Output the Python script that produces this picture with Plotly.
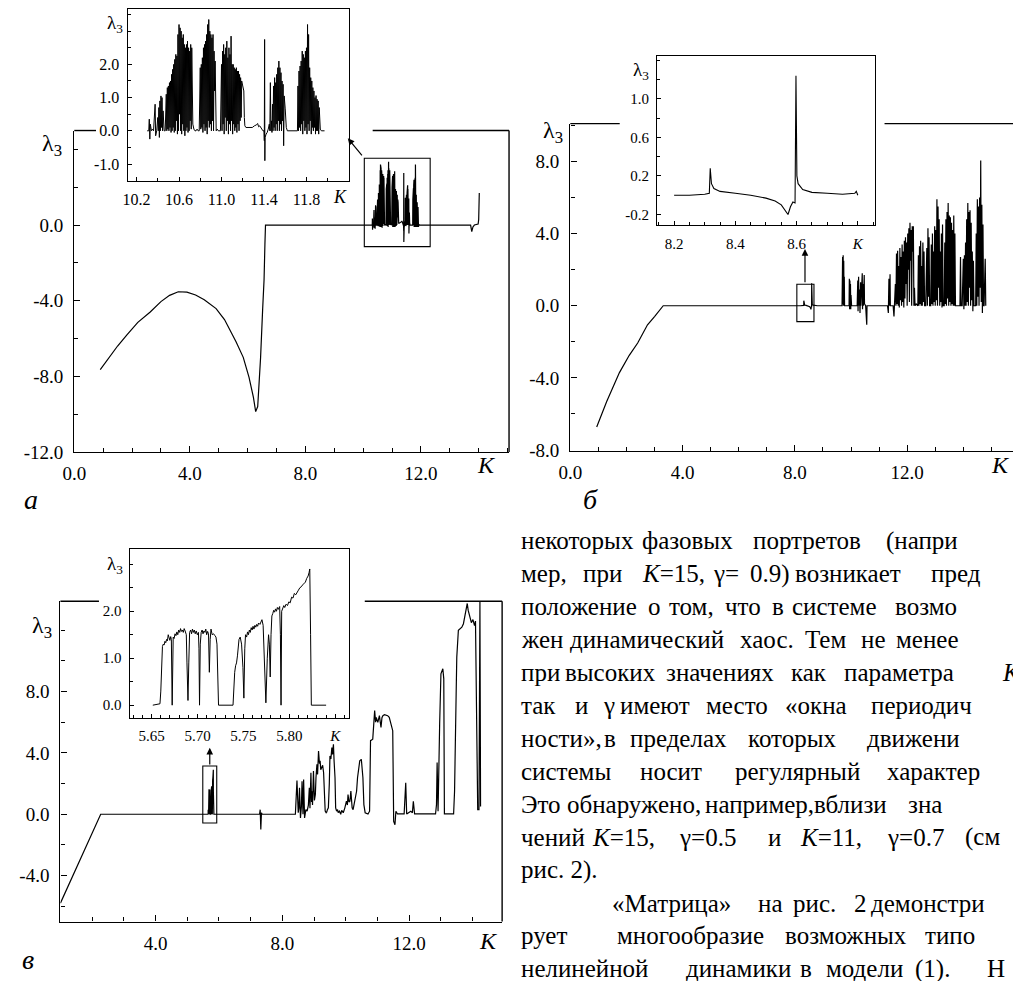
import plotly.graph_objects as go

W, H = 1013, 981
FONT = "Liberation Serif, Times New Roman, serif"

# ---------------- data: panel а (gamma fixed), λ3 versus K ----------------
A_MAIN = [(0.9, -7.65), (1.2, -7.0), (1.5, -6.4), (1.83, -5.8), (2.2, -5.15), (2.63, -4.6),
          (3.0, -4.05), (3.3, -3.72), (3.6, -3.53), (3.9, -3.55), (4.2, -3.7), (4.5, -3.95),
          (4.91, -4.42), (5.2, -5.0), (5.6, -6.17), (5.85, -7.0), (6.05, -8.06), (6.2, -9.1),
          (6.28, -9.87), (6.35, -9.6), (6.45, -7.0), (6.52, -4.5), (6.57, -2.9), (6.6, -1.0),
          (6.62, 0.0)]
A_TAIL = [(13.72, 0.0), (13.76, -0.35), (13.80, -0.1), (13.85, 0.0), (13.98, 0.05),
          (14.00, 0.3), (14.02, 1.7)]

# zoomed window 10.3 < K < 12 of panel а
INSET_A = [
    (10.30, 0.0), (10.315, 0.0), (10.32, 0.35), (10.325, -0.25), (10.33, 0.2), (10.34, 0.0),
    (10.35, 0.05), (10.36, 0.0), (10.375, 0.8), (10.38, -0.15), (10.39, 0.0), (10.40, 0.4),
    (10.405, 0.0), (10.41, 0.7), (10.415, -0.2), (10.42, 0.9), (10.425, 0.0), (10.43, 1.05),
    (10.435, 0.1), (10.44, 1.0), (10.445, 0.0), (10.45, 0.6), (10.46, 0.0), (10.47, 0.0),
    (10.48, 1.1), (10.485, 0.0), (10.49, 1.3), (10.495, 0.05), (10.50, 1.35), (10.505, 0.0),
    (10.51, 1.45), (10.515, 0.1), (10.52, 1.5), (10.525, -0.05), (10.53, 1.7), (10.535, 0.0),
    (10.54, 1.85), (10.545, 0.1), (10.55, 2.0), (10.555, -0.05), (10.56, 2.15), (10.565, 0.0),
    (10.57, 2.3), (10.575, 0.3), (10.58, 2.25), (10.585, -0.1), (10.59, 2.9), (10.595, 0.0),
    (10.60, 3.2), (10.605, 0.5), (10.61, 3.1), (10.615, 0.0), (10.62, 3.0), (10.625, -0.1),
    (10.63, 2.8), (10.635, 0.2), (10.64, 2.9), (10.645, 0.0), (10.65, 2.6), (10.655, -0.15),
    (10.66, 2.5), (10.665, 0.0), (10.67, 2.6), (10.675, 0.1), (10.68, 2.7), (10.685, -0.05),
    (10.69, 2.5), (10.695, 0.0), (10.70, 2.4), (10.705, 0.3), (10.71, 2.6), (10.715, 0.05),
    (10.72, 2.5), (10.73, 0.2), (10.74, 0.05), (10.75, 0.0), (10.76, 0.0), (10.77, 0.05),
    (10.78, 0.0), (10.79, 0.0), (10.80, 1.9), (10.805, 0.05), (10.81, 2.0), (10.815, 0.1),
    (10.82, 2.2), (10.825, -0.05), (10.83, 2.5), (10.835, 0.2), (10.84, 2.6), (10.845, 0.0),
    (10.85, 2.7), (10.855, 0.1), (10.86, 2.9), (10.865, -0.1), (10.87, 3.2), (10.875, 0.3),
    (10.88, 3.35), (10.885, 0.1), (10.89, 3.0), (10.895, 0.2), (10.90, 2.9), (10.905, 0.0),
    (10.91, 2.8), (10.915, 0.3), (10.92, 2.9), (10.925, 0.0), (10.93, 2.4), (10.935, 1.2),
    (10.94, 2.1), (10.945, 0.0), (10.95, 0.0), (10.96, 0.05), (10.97, 0.0), (10.99, 0.0),
    (11.00, 2.0), (11.005, 0.0), (11.01, 2.4), (11.015, 0.2), (11.02, 2.6), (11.025, -0.1),
    (11.03, 2.3), (11.035, 0.4), (11.04, 2.5), (11.045, 0.0), (11.05, 2.7), (11.055, 0.3),
    (11.06, 2.2), (11.065, -0.1), (11.07, 2.5), (11.075, 0.2), (11.08, 2.3), (11.085, 0.0),
    (11.09, 2.85), (11.095, 0.3), (11.10, 2.0), (11.105, -0.1), (11.11, 2.0), (11.115, 0.2),
    (11.12, 1.9), (11.125, 0.0), (11.13, 1.85), (11.135, 0.1), (11.14, 1.9), (11.145, -0.05),
    (11.15, 1.8), (11.155, 0.2), (11.16, 1.8), (11.165, 0.0), (11.17, 1.7), (11.175, 0.3),
    (11.18, 1.6), (11.185, 0.4), (11.19, 1.5), (11.20, 1.35), (11.21, 1.2), (11.215, 0.4),
    (11.22, 0.15), (11.23, 0.1), (11.25, 0.1), (11.27, 0.12), (11.29, 0.1), (11.31, 0.15),
    (11.33, 0.18), (11.34, 0.22), (11.35, 0.12), (11.36, 0.15), (11.37, 0.1), (11.38, 0.05),
    (11.39, 0.0), (11.40, 0.0), (11.403, -0.3), (11.406, 2.75), (11.408, -0.9), (11.41, -0.2),
    (11.42, -0.1), (11.43, -0.05), (11.44, 0.05), (11.45, 0.2), (11.455, 0.0), (11.46, 1.45),
    (11.465, 0.0), (11.47, 0.3), (11.475, -0.05), (11.48, 0.8), (11.485, 0.0), (11.49, 1.35),
    (11.495, 0.1), (11.50, 1.6), (11.505, 0.0), (11.51, 1.45), (11.515, 0.2), (11.52, 1.7),
    (11.525, 0.0), (11.53, 1.9), (11.535, 0.3), (11.54, 2.1), (11.545, 0.0), (11.55, 1.9),
    (11.555, 0.2), (11.56, 1.75), (11.565, 0.0), (11.57, 1.5), (11.575, 0.3), (11.58, 1.4),
    (11.585, -0.45), (11.59, 1.05), (11.60, 0.66), (11.61, 0.1), (11.62, 0.0), (11.66, 0.0),
    (11.70, 0.0), (11.715, 0.0), (11.72, 1.35), (11.725, 0.0), (11.73, 1.8), (11.735, 0.1),
    (11.74, 1.95), (11.745, 0.0), (11.75, 2.1), (11.755, 0.2), (11.76, 2.4), (11.765, -0.1),
    (11.77, 2.3), (11.775, 0.3), (11.78, 2.2), (11.785, 0.0), (11.79, 2.4), (11.795, 0.1),
    (11.80, 2.5), (11.805, -0.1), (11.81, 3.2), (11.815, 0.2), (11.82, 2.9), (11.825, 0.0),
    (11.83, 1.9), (11.835, 0.3), (11.84, 1.6), (11.845, -0.1), (11.85, 1.5), (11.855, 0.1),
    (11.86, 1.3), (11.865, 0.0), (11.87, 1.2), (11.875, 0.1), (11.88, 1.0), (11.885, -0.1),
    (11.89, 1.06), (11.895, 0.0), (11.90, 0.95), (11.905, 0.0), (11.91, 0.9), (11.915, -0.1),
    (11.92, 0.7), (11.93, 0.05), (11.94, 0.0), (11.97, 0.0)]

# ---------------- data: panel б ----------------
B_MAIN = [(0.94, -6.72), (1.3, -5.3), (1.75, -3.71), (2.1, -2.75), (2.4, -2.07), (2.75, -1.06),
          (3.0, -0.6), (3.31, 0.0)]

# zoomed window 8.2 < K < 8.8 of panel б
INSET_B = [(8.20, 0.0), (8.25, 0.0), (8.30, 0.01), (8.315, 0.02), (8.318, 0.28), (8.322, 0.12),
           (8.33, 0.07), (8.35, 0.04), (8.40, 0.02), (8.45, 0.0), (8.50, -0.03), (8.53, -0.06),
           (8.55, -0.1), (8.565, -0.17), (8.572, -0.2), (8.58, -0.12), (8.588, -0.07),
           (8.595, -0.08), (8.598, 1.24), (8.601, 0.2), (8.605, 0.12), (8.62, 0.06),
           (8.65, 0.03), (8.70, 0.02), (8.75, 0.01), (8.79, 0.02), (8.795, 0.04), (8.80, 0.0)]

B_CHAOS = [
    (9.68, 0.0), (9.70, 2.7), (9.71, 0.1), (9.72, 2.8), (9.73, 0.0), (9.74, 2.5), (9.75, 0.3),
    (9.76, 1.6), (9.77, 0.0), (9.93, 0.0), (9.94, 1.5), (9.95, -0.2), (9.96, 1.4), (9.97, 0.1),
    (9.98, 1.2), (9.99, -0.2), (10.00, 0.6), (10.02, 0.0), (10.22, 0.0), (10.24, 1.4),
    (10.25, -0.3), (10.27, 1.6), (10.28, 0.0), (10.30, 0.9), (10.32, -0.4), (10.34, 1.3),
    (10.35, 0.0), (10.40, 1.8), (10.41, -0.2), (10.43, 1.2), (10.44, 0.0), (10.47, 1.7),
    (10.48, 0.1), (10.52, 0.0), (10.56, -1.05), (10.57, 0.0), (11.30, 0.0), (11.33, -0.4),
    (11.35, 1.5), (11.37, 0.0), (11.39, 1.75), (11.40, 0.0), (11.50, 0.0), (11.53, -0.6),
    (11.55, 0.0), (11.58, 1.2), (11.60, 0.0), (11.62, 2.9), (11.64, 0.1), (11.66, 3.05),
    (11.68, 0.0), (11.70, 2.2), (11.72, -0.1), (11.74, 3.2), (11.76, 0.3), (11.78, 2.7),
    (11.80, 0.0), (11.82, 3.4), (11.84, 0.2), (11.86, 3.0), (11.88, -0.1), (11.90, 3.6),
    (11.92, 0.4), (11.94, 3.8), (11.96, 1.2), (11.98, 3.5), (12.00, 0.0), (12.02, 4.0),
    (12.04, 2.0), (12.06, 4.3), (12.08, 0.2), (12.10, 4.6), (12.12, 2.5), (12.14, 4.2),
    (12.16, 0.0), (12.18, 4.4), (12.20, 3.0), (12.22, 4.4), (12.24, 0.0), (12.26, 1.0),
    (12.28, 0.0), (12.32, 0.1), (12.38, 0.0), (12.40, 2.8), (12.42, 0.0), (12.44, 3.3),
    (12.46, 0.1), (12.48, 3.6), (12.50, 0.0), (12.52, 2.2), (12.54, 0.0), (12.56, 3.5),
    (12.58, 0.2), (12.60, 3.0), (12.62, 0.0), (12.66, 0.0), (12.70, 3.2), (12.72, 0.0),
    (12.74, 4.3), (12.76, 0.5), (12.78, 3.8), (12.80, 0.0), (12.84, 0.0), (12.86, 3.4),
    (12.88, 0.1), (12.90, 4.0), (12.92, 0.0), (12.94, 3.0), (12.96, 0.2), (12.98, 4.4),
    (13.00, 0.0), (13.02, 4.2), (13.04, 0.3), (13.06, 5.9), (13.08, 0.0), (13.10, 5.5),
    (13.12, 1.0), (13.14, 4.8), (13.16, 0.0), (13.18, 3.0), (13.20, 0.2), (13.22, 4.0),
    (13.24, -0.1), (13.26, 4.5), (13.28, 0.0), (13.32, 0.0), (13.34, 3.5), (13.36, 0.1),
    (13.38, 4.8), (13.40, 0.0), (13.42, 5.2), (13.44, 0.4), (13.46, 5.7), (13.48, 0.0),
    (13.50, 5.0), (13.52, 0.2), (13.54, 4.9), (13.56, 0.0), (13.58, 4.6), (13.60, 0.1),
    (13.62, 4.2), (13.64, 0.0), (13.66, 5.0), (13.68, 0.0), (13.70, 4.0), (13.72, 0.0),
    (13.88, 0.0), (13.90, 2.7), (13.92, 0.0), (13.96, 0.0), (14.00, 2.6), (14.02, -0.2),
    (14.04, 2.8), (14.06, 0.0), (14.08, 3.5), (14.10, 0.0), (14.12, 4.8), (14.14, 0.2),
    (14.16, 5.7), (14.18, 0.0), (14.20, 5.2), (14.22, 1.0), (14.24, 5.3), (14.26, 0.0),
    (14.28, 4.6), (14.30, 0.3), (14.32, 3.0), (14.34, -0.3), (14.36, 2.5), (14.38, 0.0),
    (14.44, 0.0), (14.46, 4.0), (14.48, 0.0), (14.50, 5.9), (14.52, 0.5), (14.54, 5.5),
    (14.56, 0.0), (14.58, 6.0), (14.60, 1.0), (14.62, 8.05), (14.64, 0.2), (14.66, 5.6),
    (14.68, -0.4), (14.70, 4.5), (14.72, 0.0), (14.74, 0.0), (14.78, 2.6), (14.80, 0.0)]

# ---------------- data: panel в ----------------
C_START = [(1.0, -5.8), (2.27, 0.0)]

# zoomed window 5.65 < K < 5.84 of panel в
INSET_C = [
    (5.6513, 0.0), (5.6591, 0.03), (5.6600, 0.3), (5.6609, 0.9), (5.6618, 1.25), (5.6627, 1.3),
    (5.6636, 1.28), (5.6645, 1.36), (5.6654, 1.33), (5.6663, 1.4), (5.6672, 1.37), (5.6681, 1.5),
    (5.6690, 1.42), (5.6699, 1.38), (5.6708, 1.46), (5.6715, 1.4), (5.6724, 0.0), (5.6730, 1.2),
    (5.6735, 1.45), (5.6745, 1.42), (5.6755, 1.52), (5.6765, 1.48), (5.6775, 1.56), (5.6785, 1.5),
    (5.6795, 1.6), (5.6806, 1.55), (5.6815, 1.63), (5.6825, 1.57), (5.6835, 1.6), (5.6845, 1.55),
    (5.6855, 1.63), (5.6865, 1.58), (5.6878, 1.5), (5.6885, 0.9), (5.6896, 0.1), (5.6905, 0.9),
    (5.6914, 1.55), (5.6925, 1.6), (5.6935, 1.52), (5.6945, 1.62), (5.6955, 1.55), (5.6965, 1.6),
    (5.6975, 1.52), (5.6986, 1.58), (5.6998, 1.5), (5.7010, 1.55), (5.7016, 1.2), (5.7022, 0.0),
    (5.7030, 1.3), (5.7040, 1.55), (5.7050, 1.6), (5.7060, 1.52), (5.7070, 1.58), (5.7080, 1.55),
    (5.7090, 1.62), (5.7100, 1.5), (5.7110, 1.57), (5.7120, 1.52), (5.7129, 0.7), (5.7138, 1.4),
    (5.7147, 1.62), (5.7160, 1.5), (5.7175, 1.52), (5.7190, 1.48), (5.7201, 1.45), (5.7212, 1.3),
    (5.7222, 0.5), (5.7229, 0.0), (5.7387, 0.0), (5.7395, 0.5), (5.7405, 0.7), (5.7415, 0.84),
    (5.7425, 0.9), (5.7435, 1.05), (5.7445, 1.3), (5.7452, 1.4), (5.7465, 1.45), (5.7480, 1.3),
    (5.7495, 0.8), (5.7505, 0.15), (5.7515, 1.2), (5.7523, 1.5), (5.7535, 1.45), (5.7545, 1.56),
    (5.7555, 1.5), (5.7565, 1.6), (5.7575, 1.55), (5.7585, 1.65), (5.7595, 1.6), (5.7605, 1.68),
    (5.7615, 1.62), (5.7625, 1.7), (5.7635, 1.66), (5.7645, 1.72), (5.7655, 1.68), (5.7665, 1.75),
    (5.7680, 1.72), (5.7692, 1.8), (5.7702, 1.82), (5.7715, 1.7), (5.7730, 0.9), (5.7745, 0.05),
    (5.7760, 1.0), (5.7774, 1.5), (5.7783, 1.3), (5.7792, 0.6), (5.7801, 1.5), (5.7810, 1.9),
    (5.7820, 1.95), (5.7830, 2.02), (5.7840, 1.98), (5.7850, 2.05), (5.7860, 2.0), (5.7870, 2.08),
    (5.7880, 2.04), (5.7895, 2.1), (5.7903, 1.5), (5.7910, 0.0), (5.7917, 2.0), (5.7930, 2.05),
    (5.7940, 2.12), (5.7950, 2.08), (5.7965, 2.15), (5.7980, 2.12), (5.7995, 2.2), (5.8010, 2.18),
    (5.8025, 2.3), (5.8040, 2.28), (5.8055, 2.38), (5.8070, 2.35), (5.8085, 2.42), (5.8100, 2.45),
    (5.8115, 2.5), (5.8130, 2.52), (5.8145, 2.56), (5.8160, 2.6), (5.8175, 2.62), (5.8190, 2.7),
    (5.8205, 2.75), (5.8215, 2.82), (5.8223, 2.9), (5.8232, 1.5), (5.8240, 0.0), (5.8401, 0.0)]

C_MID = [(7.28, 0.0), (7.30, 0.3), (7.32, -1.0), (7.34, 0.1), (7.36, 0.0), (8.38, 0.0)]

C_CHAOS = [
    (8.41, 0.0), (8.46, 2.2), (8.50, 0.1), (8.52, 0.4), (8.54, 1.73), (8.57, -0.24), (8.60, 0.5),
    (8.62, 2.16), (8.65, 0.0), (8.67, 2.27), (8.70, -0.24), (8.74, 0.3), (8.78, 0.2), (8.82, 0.6),
    (8.85, 1.73), (8.87, 0.4), (8.90, 2.7), (8.92, 0.8), (8.93, 1.5), (8.95, 0.6), (8.98, 2.82),
    (9.01, 0.9), (9.04, 1.29), (9.06, 2.4), (9.09, 3.26), (9.11, 2.6), (9.14, 4.13), (9.17, 3.3),
    (9.19, 3.48), (9.21, 2.9), (9.24, 3.04), (9.27, 3.2), (9.30, 2.71), (9.33, 1.0), (9.35, 0.2),
    (9.38, 0.1), (9.40, 0.15), (9.42, 0.3), (9.45, 0.42), (9.48, 2.0), (9.50, 3.8), (9.53, 3.6),
    (9.56, 4.35), (9.58, 3.9), (9.61, 4.57), (9.63, 3.5), (9.66, 2.38), (9.68, 0.42), (9.71, 0.2),
    (9.74, 0.3), (9.76, 0.1), (9.80, 0.2), (9.84, 0.0), (9.87, 0.25), (9.92, 0.1), (9.97, 0.42),
    (10.02, 0.85), (10.05, 0.6), (10.07, 1.29), (10.10, 0.8), (10.13, 0.85), (10.16, 1.51),
    (10.20, 0.42), (10.23, 0.3), (10.26, 0.63), (10.30, 1.18), (10.34, 1.5), (10.37, 2.38),
    (10.40, 2.9), (10.44, 3.48), (10.49, 3.58), (10.52, 3.0), (10.54, 2.38), (10.57, 0.63),
    (10.61, 0.1), (10.70, 0.02), (10.75, 0.2), (10.78, 4.8), (10.85, 4.9), (10.91, 6.76),
    (10.94, 6.0), (10.96, 6.32), (11.01, 5.99), (11.06, 6.43), (11.11, 5.66), (11.14, 6.3),
    (11.17, 6.43), (11.22, 6.49), (11.32, 6.43), (11.37, 6.32), (11.42, 5.99), (11.48, 5.45),
    (11.51, -0.46), (11.55, -0.68), (11.58, 0.2), (11.63, 0.02), (11.84, 0.02), (11.89, 2.05),
    (11.92, 0.02), (12.05, 0.2), (12.10, 0.1), (12.13, 0.85), (12.17, 0.02), (12.83, 0.02),
    (12.86, 0.63), (12.88, 3.37), (12.91, 0.2), (12.93, 4.13), (12.96, 5.9), (13.00, 9.16),
    (13.06, 9.49), (13.09, 8.83), (13.11, 0.02), (13.40, 0.02), (13.43, 1.5), (13.48, 7.85),
    (13.50, 10.25), (13.55, 12.0), (13.61, 12.1), (13.66, 12.2), (13.71, 12.43), (13.76, 13.1),
    (13.83, 13.75), (13.86, 13.3), (13.91, 12.9), (13.96, 12.5), (14.01, 12.7), (14.06, 12.3),
    (14.09, 12.6), (14.10, 10.9), (14.13, 7.0), (14.16, 0.3), (14.20, 0.3), (14.23, 13.85),
    (14.25, 0.5)]

# ---------------- body text of the page (word, left edge px), one row per line ----------------
TEXT_LINES = [
    [(513, "некоторых"), (636, "фазовых"), (748, "портретов"), (882, "(напри")],
    [(513, "мер,"), (576, "при"), (636, "<i>K</i>=15,"), (707, "γ="), (745, "0.9)"),
     (790, "возникает"), (928, "пред")],
    [(513, "положение"), (642, "о"), (663, "том,"), (720, "что"), (767, "в"),
     (787, "системе"), (892, "возмо")],
    [(513, "жен"), (563, "динамический"), (735, "хаос."), (800, "Тем"), (857, "не"),
     (893, "менее")],
    [(513, "при"), (558, "высоких"), (660, "значениях"), (786, "как"), (840, "параметра"),
     (1000, "<i>K</i>")],
    [(513, "так"), (568, "и"), (596, "γ"), (613, "имеют"), (700, "место"), (780, "«окна"),
     (867, "периодич")],
    [(513, "ности»,"), (597, "в"), (623, "пределах"), (743, "которых"), (863, "движени")],
    [(513, "системы"), (633, "носит"), (730, "регулярный"), (883, "характер")],
    [(513, "Это"), (560, "обнаружено,"), (699, "например,"), (810, "вблизи"), (905, "зна")],
    [(513, "чений"), (585, "<i>K</i>=15,"), (673, "γ=0.5"), (763, "и"), (795, "<i>K</i>=11,"),
     (883, "γ=0.7"), (962, "(см")],
    [(513, "рис. 2).")],
    [(605, "«Матрица»"), (753, "на"), (788, "рис."), (850, "2"), (867, "демонстри")],
    [(513, "рует"), (610, "многообразие"), (780, "возможных"), (922, "типо")],
    [(513, "нелинейной"), (680, "динамики"), (795, "в"), (822, "модели"), (912, "(1)."),
     (985, "Н")],
]
TEXT_TOP, TEXT_STEP, TEXT_SIZE = 547, 33.3, 25


def fx(px):
    return px / W


def fy(py):
    return 1 - py / H


def split(pairs):
    return [p[0] for p in pairs], [p[1] for p in pairs]


fig = go.Figure()


def add_line(pairs, xa, ya, width=1.2):
    k, l = split(pairs)
    fig.add_trace(go.Scatter(x=k, y=l, mode="lines", xaxis=xa, yaxis=ya,
                             line=dict(color="black", width=width), hoverinfo="skip",
                             showlegend=False))


add_line(A_MAIN + INSET_A + A_TAIL, "x", "y")
add_line(INSET_A, "x2", "y2", 1.0)
add_line(B_MAIN + INSET_B + B_CHAOS, "x3", "y3")
add_line(INSET_B, "x4", "y4", 1.1)
add_line(C_START + INSET_C + C_MID + C_CHAOS, "x5", "y5")
add_line(INSET_C, "x6", "y6", 1.0)


def axis(domain, rng, tickvals, ticktext, minor_dtick, minor_t0, size, mirror=False,
         standoff=4, ticklen=6):
    return dict(domain=domain, range=rng, tickmode="array", tickvals=tickvals,
                ticktext=ticktext, ticks="inside", ticklen=ticklen, tickwidth=1.2,
                tickcolor="black", showline=True, linecolor="black", linewidth=1.4,
                mirror=mirror, showgrid=False, zeroline=False,
                ticklabelstandoff=standoff,
                tickfont=dict(family=FONT, size=size, color="black"),
                minor=dict(ticks="inside", dtick=minor_dtick, tick0=minor_t0,
                           ticklen=max(3, ticklen - 2), tickwidth=1.0, tickcolor="black",
                           showgrid=False))


def fmt(vals):
    return [f"{v:.1f}" for v in vals]


layout = dict(
    width=W, height=H, margin=dict(l=0, r=0, t=0, b=0),
    paper_bgcolor="white", plot_bgcolor="white", showlegend=False,
    font=dict(family=FONT, color="black"),
    # panel а
    xaxis=axis([fx(63), fx(503)], [0, 15.05], [0, 4, 8, 12], fmt([0, 4, 8, 12]), 1, 0, 19),
    yaxis=axis([fy(457), fy(132)], [-12, 5.0], [-12, -8, -4, 0], fmt([-12, -8, -4, 0]), 2, 0, 19,
               standoff=6),
    xaxis2=axis([fx(117), fx(341)], [10.116, 12.2], [10.2, 10.6, 11.0, 11.4, 11.8],
                fmt([10.2, 10.6, 11.0, 11.4, 11.8]), 0.2, 10.2, 16, True, ticklen=4),
    yaxis2=axis([fy(183), fy(9)], [-1.51, 3.67], [-1, 0, 1, 2], fmt([-1, 0, 1, 2]), 0.5, 0, 16,
                True, ticklen=4),
    # panel б
    xaxis3=axis([fx(565), 1.0], [0, 15.77], [0, 4, 8, 12], fmt([0, 4, 8, 12]), 1, 0, 19),
    yaxis3=axis([fy(456), fy(125)], [-8.05, 10.1], [-8, -4, 0, 4, 8], fmt([-8, -4, 0, 4, 8]), 2,
                0, 19, standoff=6),
    xaxis4=axis([fx(653), fx(873)], [8.145, 8.855], [8.2, 8.4, 8.6, 8.8],
                ["8.2", "8.4", "8.6", "<i>K</i>"], 0.05, 8.2, 15, True, ticklen=4),
    yaxis4=axis([fy(228), fy(57)], [-0.313, 1.44], [-0.2, 0.2, 0.6, 1.0],
                ["-0.2", "0.2", "0.6", "1.0"], 0.2, 0.0, 15, True, ticklen=4),
    # panel в
    xaxis5=axis([fx(49), fx(496)], [1.0, 14.93], [4, 8, 12], fmt([4, 8, 12]), 1, 0, 19),
    yaxis5=axis([fy(932), fy(608)], [-7.0, 13.9], [-4, 0, 4, 8], fmt([-4, 0, 4, 8]), 2, 0, 19,
                standoff=6),
    xaxis6=axis([fx(119), fx(341)], [5.626, 5.865], [5.65, 5.70, 5.75, 5.80, 5.85],
                ["5.65", "5.70", "5.75", "5.80", "<i>K</i>"], 0.01, 5.65, 15, True, ticklen=4),
    yaxis6=axis([fy(726), fy(555)], [-0.27, 3.33], [0, 1, 2], fmt([0, 1, 2]), 0.5, 0, 15, True,
                ticklen=4),
)
for i in range(1, 7):
    s = "" if i == 1 else str(i)
    layout[f"xaxis{s}"]["anchor"] = f"y{s}"
    layout[f"yaxis{s}"]["anchor"] = f"x{s}"
fig.update_layout(**layout)

shapes = []


def seg(x0, y0, x1, y1):
    shapes.append(dict(type="line", xref="paper", yref="paper", x0=fx(x0), y0=fy(y0),
                       x1=fx(x1), y1=fy(y1), line=dict(color="black", width=1.4),
                       layer="above"))


# top and right edges of the main frames, broken where the insets sit
seg(63, 132, 85, 132); seg(365, 132, 503, 132); seg(503, 132, 503, 457)
seg(565, 125, 615, 125); seg(883, 125, W, 125)
seg(49, 608, 88, 608); seg(357, 608, 496, 608); seg(496, 608, 496, 932)

# rectangles marking the zoomed windows
for xa, ya, k0, k1, l0, l1 in [("x", "y", 10.04, 12.32, -1.14, 3.53),
                               ("x3", "y3", 8.07, 8.68, -0.88, 1.19),
                               ("x5", "y5", 5.49, 5.93, -0.57, 3.15)]:
    shapes.append(dict(type="rect", xref=xa, yref=ya, x0=k0, x1=k1, y0=l0, y1=l1,
                       line=dict(color="black", width=1.1), fillcolor="rgba(0,0,0,0)",
                       layer="above"))
fig.update_layout(shapes=shapes)

ann = []
# arrows from the windows to the insets
for xa, ya, hx, hy, tx, ty in [("x", "y", 9.47, 4.59, 10.0, 3.6),
                               ("x3", "y3", 8.36, 3.14, 8.36, 1.22),
                               ("x5", "y5", 5.71, 4.33, 5.71, 3.15)]:
    ann.append(dict(x=hx, y=hy, xref=xa, yref=ya, ax=tx, ay=ty, axref=xa, ayref=ya, text="",
                    showarrow=True, arrowhead=2, arrowsize=1.1, arrowwidth=1.2,
                    arrowcolor="black"))


def label(px, py, text, size, italic=False):
    t = f"<i>{text}</i>" if italic else text
    ann.append(dict(x=fx(px), y=fy(py), xref="paper", yref="paper", text=t, showarrow=False,
                    xanchor="center", yanchor="middle",
                    font=dict(family=FONT, size=size, color="black")))


lam = "λ<sub>3</sub>"
label(40, 147, lam, 24); label(547, 134, lam, 24); label(30, 634, lam, 24)
label(104, 24, lam, 19); label(637, 72, lam, 19); label(104, 571, lam, 19)
label(480, 470, "K", 24, True); label(1000, 470, "K", 24, True); label(482, 952, "K", 24, True)
label(332, 199, "K", 18, True)
label(19, 505, "a", 28, True); label(585, 505, "б", 28, True); label(16, 970, "в", 28, True)

for row, words in enumerate(TEXT_LINES):
    yc = TEXT_TOP + row * TEXT_STEP
    for x0, w in words:
        ann.append(dict(x=fx(x0), y=fy(yc), xref="paper", yref="paper", text=w,
                        showarrow=False, xanchor="left", yanchor="middle", align="left",
                        font=dict(family=FONT, size=TEXT_SIZE, color="black")))

fig.update_layout(annotations=ann)
fig.write_html("out.html")
